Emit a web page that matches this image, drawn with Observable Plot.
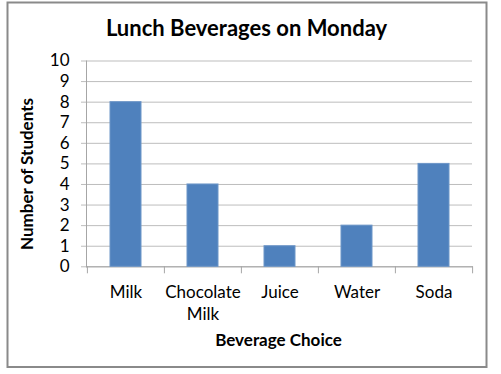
<!DOCTYPE html>
<html><head><meta charset="utf-8">
<script src="https://cdn.jsdelivr.net/npm/d3@7"></script>
<script src="https://cdn.jsdelivr.net/npm/@observablehq/plot@0.6"></script>
<style>body{margin:0;background:#fff}svg{display:block}</style>
</head><body><div id="chart"></div>
<script>
const categories = ["Milk", "Chocolate Milk", "Juice", "Water", "Soda"];
const students = [8, 4, 1, 2, 5];
const yTicks = [0, 1, 2, 3, 4, 5, 6, 7, 8, 9, 10];
const chartTitle = "Lunch Beverages on Monday";
const xTitle = "Beverage Choice";
const yTitle = "Number of Students";

const data = categories.map((c, i) => ({beverage: c, students: students[i]}));

const W = 501, H = 374, mL = 86, mR = 29, mT = 60.5, mB = 107.7;
const step = (W - mL - mR) / categories.length;
const cx = (mL + W - mR) / 2, cy = (mT + H - mB) / 2;
const font = "Lato, 'Open Sans', sans-serif";

const chart = Plot.plot({
  width: W, height: H,
  marginLeft: mL, marginRight: mR, marginTop: mT, marginBottom: mB,
  style: {fontFamily: font, fontSize: "17px", color: "#000", background: "#fff"},
  x: {domain: categories, paddingInner: 0.6, paddingOuter: 0.3, axis: null, label: null},
  y: {domain: [0, 10], axis: null, label: null},
  marks: [
    Plot.frame({stroke: "#8a8a8a", strokeWidth: 2,
      insetLeft: -(mL - 7), insetTop: -(mT - 2), insetRight: -(486 - (W - mR)), insetBottom: -(366.5 - (H - mB))}),
    Plot.ruleY(yTicks, {y: d => d, stroke: "#bdbdbd", strokeWidth: 1, insetLeft: -5}),
    Plot.frame({anchor: "left", stroke: "#a6a6a6"}),
    Plot.frame({anchor: "bottom", stroke: "#a6a6a6"}),
    Plot.ruleX(categories, {x: d => d, y1: 0, y2: 0, dx: -step / 2, insetBottom: -7, stroke: "#a6a6a6"}),
    Plot.ruleX([categories[categories.length - 1]], {x: d => d, y1: 0, y2: 0, dx: step / 2, insetBottom: -7, stroke: "#a6a6a6"}),
    Plot.barY(data, {x: "beverage", y: "students", fill: "#4f81bd", stroke: "#6d96c8", strokeWidth: 1}),
    Plot.axisY(yTicks, {tickSize: 0, tickPadding: 17, fontSize: 17, anchor: "left", label: null}),
    Plot.axisX({tickSize: 0, tickPadding: 15, fontSize: 17, lineHeight: 1.3, tickFormat: d => d.replace(" ", "\n"), anchor: "bottom", label: null}),
    Plot.text([chartTitle], {frameAnchor: "top", dx: 246 - cx, dy: -(mT - 28.5), fontSize: 22, fontWeight: "bold", lineAnchor: "middle", text: d => d}),
    Plot.text([xTitle], {frameAnchor: "bottom", dx: 278 - cx, dy: 340 - (H - mB), fontSize: 17, fontWeight: "bold", lineAnchor: "middle", text: d => d}),
    Plot.text([yTitle], {frameAnchor: "left", dx: 27 - mL, dy: 173.5 - cy, rotate: -90, fontSize: 17, fontWeight: "bold", lineAnchor: "middle", textAnchor: "middle", text: d => d})
  ]
});
document.getElementById("chart").append(chart);
</script>
</body></html>
